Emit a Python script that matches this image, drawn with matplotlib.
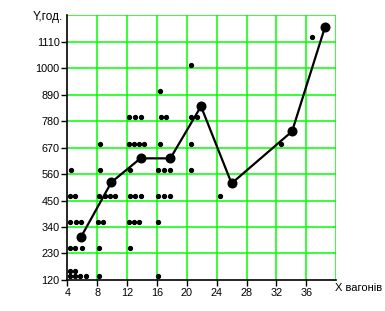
import matplotlib
matplotlib.use('Agg')
import matplotlib.pyplot as plt
import numpy as np

# scatter points: (x, y)
dot_x = [4.3, 5.0, 5.7, 6.5, 8.2, 16.2,
         4.3, 5.0,
         4.3, 5.0, 5.9, 8.2, 12.4,
         4.4, 5.1, 5.8, 8.1, 8.8, 12.2, 12.9, 13.6, 16.2,
         4.3, 5.0, 8.2, 9.0, 9.7, 10.4, 12.4, 13.1, 13.8, 16.2, 17.0, 17.8,
         4.5, 8.4, 12.4, 16.2, 17.0, 17.8, 20.5, 24.5,
         8.4, 12.2, 12.9, 13.6, 14.3, 16.4, 20.6, 32.6,
         12.2, 13.1, 13.8, 16.5, 17.2, 20.6, 21.3,
         16.4, 20.6, 36.8]
dot_y = [137] * 6 + [159] * 2 + [253] * 5 + [362] * 9 + [470] * 12 + \
        [577] * 7 + [469] + [685] * 8 + [798] * 7 + [906, 1014, 1130]

# group means (line with big markers)
mean_x = [5.8, 9.9, 13.8, 17.8, 21.9, 26.0, 34.1, 38.5]
mean_y = [297, 526, 625, 625, 841, 521, 737, 1169]

yticks = [120, 230, 340, 450, 560, 670, 780, 890, 1000, 1110]
xticks = [4, 8, 12, 16, 20, 24, 28, 32, 36]

plt.rcParams['font.family'] = ['Liberation Sans', 'DejaVu Sans']

fig = plt.figure(figsize=(3.85, 3.11), dpi=100)
ax = fig.add_axes([0.175, 0.0997, 0.698, 0.852])

green = '#00ff00'
for v in yticks[1:] + [1220]:
    ax.axhline(v, color=green, lw=1.1, zorder=1)
for v in xticks[1:] + [40]:
    ax.axvline(v, color=green, lw=1.1, zorder=1)

ax.plot(dot_x, dot_y, 'o', color='black', markersize=2.8, zorder=3)
ax.plot(mean_x, mean_y, '-o', color='black', lw=1.6, markersize=6.2, zorder=4)

ax.set_xlim(4, 40)
ax.set_ylim(120, 1220)
ax.set_xticks(xticks)
ax.set_yticks(yticks)
ax.tick_params(labelsize=7.8, length=4, width=1, colors='black', pad=1.5)
for s in ['top', 'right']:
    ax.spines[s].set_visible(False)
for s in ['left', 'bottom']:
    ax.spines[s].set_linewidth(1.2)

fig.text(63 / 385, 1 - 17 / 311, 'Y,год.', fontsize=8.5, ha='right', va='center')
fig.text(335 / 385, 1 - 288 / 311, 'X вагонів', fontsize=8, ha='left', va='center')

fig.savefig('out.png', dpi=100)
